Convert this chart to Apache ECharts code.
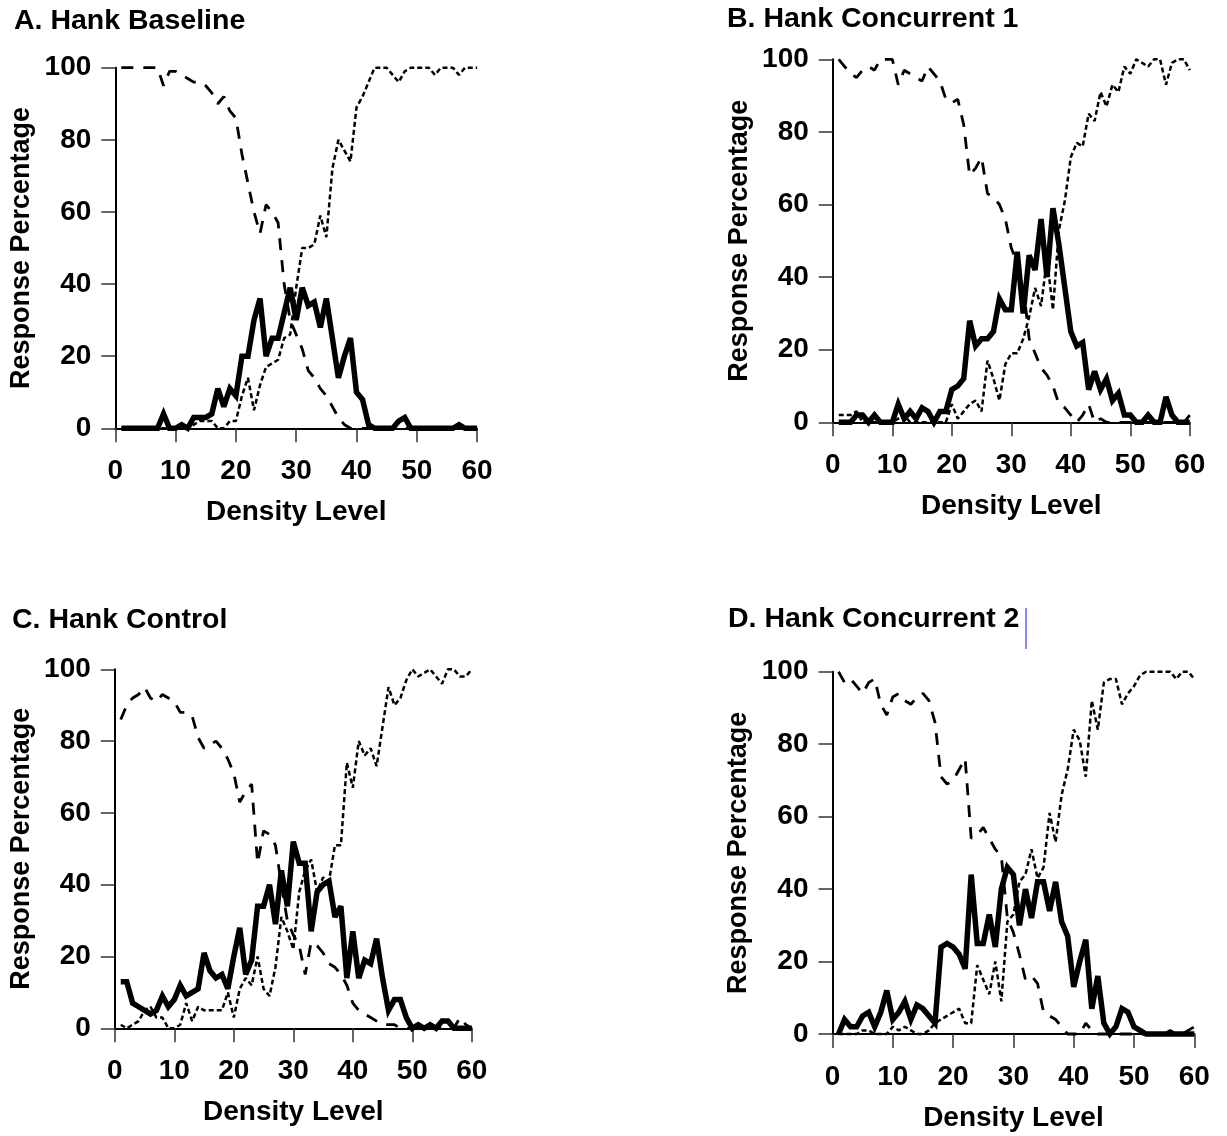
<!DOCTYPE html>
<html>
<head>
<meta charset="utf-8">
<script src="https://cdn.jsdelivr.net/npm/echarts@6/dist/echarts.min.js"></script>
<style>
    html, body { margin: 0; padding: 0; background: #fff; }
    #chart { width: 1227px; height: 1136px; }
</style>
</head>
<body>
<div id="chart"></div>
<script>
// density levels 1..60 (x categories)
var densityLevels = [];
for (var d = 1; d <= 60; d++) densityLevels.push(d);

var xTicks = [0, 10, 20, 30, 40, 50, 60];
var yTicks = [0, 20, 40, 60, 80, 100];

var panelTitles = ['A. Hank Baseline', 'B. Hank Concurrent 1', 'C. Hank Control', 'D. Hank Concurrent 2'];

// A. Baseline
var aSolid = [0,0,0,0,0,0,0,4,0,0, 1,0,3,3,3,4,11,6,11,9, 20,20,30,36,20,25,25,32,39,30,
              39,34,35,28,36,25,14,20,25,10, 8,1,0,0,0,0,2,3,0,0, 0,0,0,0,0,0,1,0,0,0];
var aDashed = [100,100,100,100,100,100,100,95,99,99, 98,97,96,96,95,93,90,92,88,86, 76,68,60,54,62,60,57,40,30,26,
               22,16,14,11,9,6,3,1,0,0, 0,0,0,0,0,0,0,0,0,0, 0,0,0,0,0,0,0,0,0,0];
var aDotted = [0,0,0,0,0,0,0,0,0,0, 0,0,1,2,2,2,0,0,2,2, 9,14,5,12,17,18,19,25,26,39,
               50,50,51,59,53,72,80,77,74,89, 92,96,100,100,100,98,96,99,100,100, 100,100,98,100,100,100,98,100,100,100];

// B. Concurrent 1
var bSolid = [0,0,0,2,2,0,2,0,0,0, 5,1,3,1,4,3,0,3,3,9, 10,12,28,21,23,23,25,34,31,31,
              47,30,46,42,56,40,59,49,37,25, 21,22,9,14,9,12,6,8,2,2, 0,0,2,0,0,7,2,0,0,0];
var bDashed = [100,98,96,95,97,98,97,100,100,100, 93,97,96,95,94,98,96,94,89,88, 89,82,68,70,73,63,62,60,56,48,
               44,38,23,19,15,13,10,5,4,2, 0,2,5,0,1,0,0,0,0,0, 0,0,0,0,0,0,0,0,0,2];
var bDotted = [2,2,2,3,0,0,0,0,0,0, 1,2,0,0,0,0,0,0,0,5, 1,3,5,6,3,17,12,6,16,19,
               19,23,29,37,32,45,31,53,61,73, 77,76,85,83,91,87,93,91,98,96, 100,99,98,100,100,93,99,100,100,97];

// C. Control
var cSolid = [13,13,7,6,5,4,5,9,6,8, 12,9,10,11,21,16,14,15,11,20, 28,15,19,34,34,40,29,44,34,52,
              46,46,27,38,40,41,31,34,14,27, 14,19,18,25,14,5,8,8,3,0, 1,0,1,0,2,2,0,0,0,0];
var cDashed = [86,90,92,93,95,92,91,93,92,91, 88,88,87,81,78,79,80,78,75,71, 63,66,68,46,55,54,51,40,30,26,
               23,15,24,23,21,18,17,15,12,7, 5,4,3,2,1,1,1,0,0,0, 0,0,0,0,0,0,0,3,1,0];
var cDotted = [1,0,1,2,5,6,3,3,0,0, 1,7,2,6,5,5,5,5,10,3, 11,14,12,20,11,9,17,31,27,22,
               38,44,47,38,42,41,51,51,74,67, 80,76,78,73,84,95,90,92,97,100, 98,99,100,98,96,100,100,98,98,100];

// D. Concurrent 2
var dSolid = [0,4,2,2,5,6,2,6,12,4, 6,9,4,8,7,5,3,24,25,24, 22,18,44,25,25,33,24,40,46,44,
              30,40,32,42,42,34,42,31,27,13, 20,26,7,16,3,0,2,7,6,2, 1,0,0,0,0,0,0,0,0,0];
var dDashed = [100,97,98,96,94,97,98,91,88,93, 94,92,91,93,94,92,86,71,69,70, 73,76,54,55,57,54,51,49,32,28,
               22,15,16,14,6,5,4,2,0,0, 0,3,1,0,0,0,0,0,0,0, 0,0,0,0,0,1,0,0,1,2];
var dDotted = [0,0,0,0,1,1,0,0,0,2, 1,2,1,0,0,1,3,4,5,6, 7,3,3,19,15,11,20,9,31,33,
               42,44,51,43,46,61,53,66,73,84, 81,71,92,84,97,98,98,91,94,96, 99,100,100,100,100,100,98,100,100,98];

var panels = [
    { title: panelTitles[0], solid: aSolid, dashed: aDashed, dotted: aDotted,
      grid: { left: 115.3, top: 67.7, width: 361.8, height: 360.6 }, titleX: 14, titleY: 7 },
    { title: panelTitles[1], solid: bSolid, dashed: bDashed, dotted: bDotted,
      grid: { left: 832.8, top: 59.3, width: 357, height: 363 }, titleX: 727, titleY: 5 },
    { title: panelTitles[2], solid: cSolid, dashed: cDashed, dotted: cDotted,
      grid: { left: 114.8, top: 669.3, width: 357, height: 359 }, titleX: 12, titleY: 606 },
    { title: panelTitles[3], solid: dSolid, dashed: dDashed, dotted: dDotted,
      grid: { left: 832.5, top: 671.7, width: 361.8, height: 362.3 }, titleX: 728, titleY: 605 }
];

var fontFamily = '"Liberation Sans", Arial, Helvetica, sans-serif';

function pairs(values) {
    return values.map(function (v, i) { return [densityLevels[i], v]; });
}

var grids = [], xAxes = [], yAxes = [], series = [], graphics = [];

panels.forEach(function (p, i) {
    grids.push({
        left: p.grid.left, top: p.grid.top, width: p.grid.width, height: p.grid.height,
        containLabel: false, outerBoundsMode: 'none'
    });
    xAxes.push({
        type: 'value', gridIndex: i, min: xTicks[0], max: xTicks[xTicks.length - 1], interval: 10,
        name: 'Density Level', nameLocation: 'middle', nameGap: 70,
        nameTextStyle: { fontFamily: fontFamily, fontWeight: 'bold', fontSize: 28, color: '#000' },
        axisLine: { show: true, onZero: false, lineStyle: { color: '#000', width: 2 } },
        axisTick: { show: true, inside: false, length: 14, lineStyle: { color: '#333', width: 1.5 } },
        axisLabel: { margin: 29, fontFamily: fontFamily, fontWeight: 'bold', fontSize: 28, color: '#000' },
        splitLine: { show: false }
    });
    yAxes.push({
        type: 'value', gridIndex: i, min: yTicks[0], max: yTicks[yTicks.length - 1], interval: 20,
        name: 'Response Percentage', nameLocation: 'middle', nameGap: 80,
        nameTextStyle: { fontFamily: fontFamily, fontWeight: 'bold', fontSize: 27, color: '#000' },
        axisLine: { show: true, onZero: false, lineStyle: { color: '#000', width: 2 } },
        axisTick: { show: true, inside: false, length: 14, lineStyle: { color: '#333', width: 1.5 } },
        axisLabel: { margin: 24, fontFamily: fontFamily, fontWeight: 'bold', fontSize: 28, color: '#000' },
        splitLine: { show: false }
    });
    series.push({
        type: 'line', xAxisIndex: i, yAxisIndex: i, data: pairs(p.solid),
        showSymbol: false, symbol: 'none', clip: false, z: 3,
        lineStyle: { color: '#000', width: 5.5, join: 'miter', miterLimit: 3 }
    });
    series.push({
        type: 'line', xAxisIndex: i, yAxisIndex: i, data: pairs(p.dashed),
        showSymbol: false, symbol: 'none', clip: false, z: 4,
        lineStyle: { color: '#000', width: 2.8, type: [12, 10] }
    });
    series.push({
        type: 'line', xAxisIndex: i, yAxisIndex: i, data: pairs(p.dotted),
        showSymbol: false, symbol: 'none', clip: false, z: 5,
        lineStyle: { color: '#000', width: 2.5, type: [5, 3] }
    });
    graphics.push({
        type: 'text', left: p.titleX, top: p.titleY,
        style: { text: p.title, fill: '#000', font: 'bold 28.5px ' + fontFamily }
    });
});

// text cursor left after panel D's title
graphics.push({
    type: 'line', shape: { x1: 1026, y1: 608, x2: 1026, y2: 649 },
    style: { stroke: '#8a8af0', lineWidth: 2 }
});

var chart = echarts.init(document.getElementById('chart'), null, { renderer: 'canvas' });
chart.setOption({
    animation: false,
    backgroundColor: '#fff',
    grid: grids,
    xAxis: xAxes,
    yAxis: yAxes,
    series: series,
    graphic: graphics
});
</script>
</body>
</html>
